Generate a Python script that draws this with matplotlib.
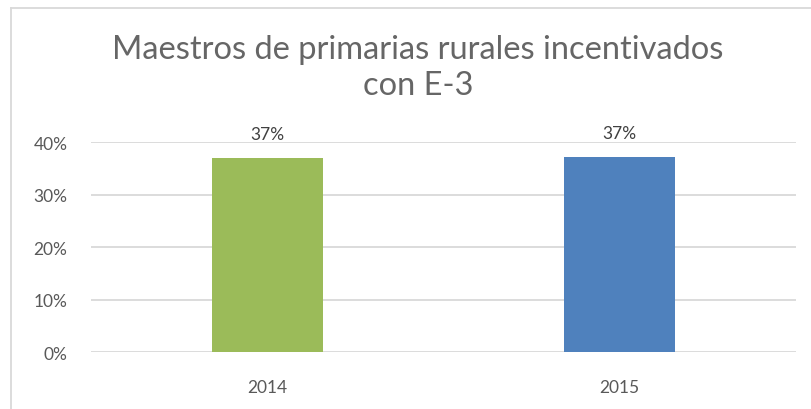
import matplotlib.pyplot as plt
from matplotlib.lines import Line2D

# data
years = ["2014", "2015"]
shares = [0.370, 0.372]
bar_colors = ["#9BBB59", "#4F81BD"]
y_ticks = [0.0, 0.1, 0.2, 0.3, 0.4]

title = "Maestros de primarias rurales incentivados\ncon E-3"

fig = plt.figure(figsize=(8.12, 4.10), dpi=100)
ax = fig.add_axes([0.112, 0.1383, 0.868, 0.5122])

x = range(len(years))
bars = ax.bar(x, shares, width=0.315, color=bar_colors, zorder=3)

ax.set_xlim(-0.5, len(years) - 0.5)
ax.set_ylim(0, 0.4)
ax.set_yticks(y_ticks)
ax.set_yticklabels([f"{int(round(t * 100))}%" for t in y_ticks])
ax.set_xticks(list(x))
ax.set_xticklabels(years)

ax.grid(axis="y", color="#D9D9D9", linewidth=1.3, zorder=0)
ax.set_axisbelow(True)
for side in ["top", "right", "left", "bottom"]:
    ax.spines[side].set_visible(False)
ax.tick_params(axis="both", length=0, labelsize=12.5, labelcolor="#595959")
ax.tick_params(axis="y", pad=17)
ax.tick_params(axis="x", pad=19)
for lbl in ax.get_xticklabels() + ax.get_yticklabels():
    lbl.set_fontfamily("Lato")

# value labels on top of bars
for b, v in zip(bars, shares):
    ax.annotate(f"{v * 100:.0f}%", (b.get_x() + b.get_width() / 2, v),
                xytext=(0, 11.5), textcoords="offset points",
                ha="center", va="bottom", fontsize=12.5, color="#404040",
                family="Lato")

fig.text(0.515, 0.833, title, ha="center", va="center", fontsize=23.5,
         color="#666666", family="Lato", fontweight="normal", linespacing=1.25)

# chart frame, only top and left edges are inside the crop
fig.add_artist(Line2D([11 / 812, 1], [1 - 8.5 / 410, 1 - 8.5 / 410],
                      color="#D9D9D9", linewidth=1.3, transform=fig.transFigure))
fig.add_artist(Line2D([11 / 812, 11 / 812], [0, 1 - 8.5 / 410],
                      color="#D9D9D9", linewidth=1.3, transform=fig.transFigure))

fig.savefig("out.png", dpi=100)
